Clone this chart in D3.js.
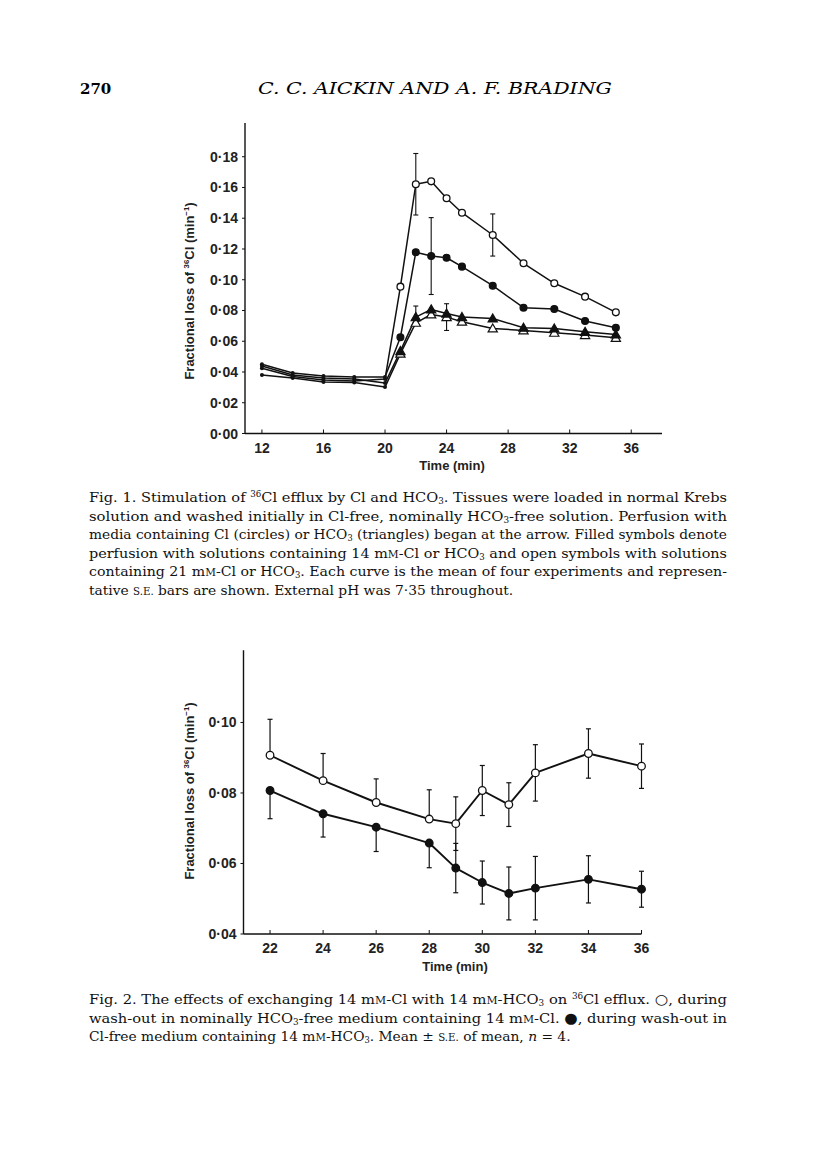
<!DOCTYPE html>
<html>
<head>
<meta charset="utf-8">
<script src="https://cdn.jsdelivr.net/npm/d3@7"></script>
<style>
  html, body { margin: 0; padding: 0; background: #fff; }
  svg { display: block; }
</style>
</head>
<body>
<svg id="chart" width="816" height="1160"></svg>
<script>
// ---------- DATA ----------
// Fig. 1
const fig1Time = [12, 14, 16, 18, 20, 21, 22, 23, 24, 25, 27, 29, 31, 33, 35];
const fig1OpenCircle   = [0.0424, 0.0371, 0.0348, 0.0341, 0.0354, 0.0955, 0.1621, 0.1640, 0.1530, 0.1436, 0.1291, 0.1107, 0.0977, 0.0890, 0.0788];
const fig1FilledCircle = [0.0450, 0.0393, 0.0374, 0.0367, 0.0367, 0.0626, 0.1179, 0.1154, 0.1143, 0.1085, 0.0961, 0.0818, 0.0810, 0.0732, 0.0688];
const fig1FilledTri    = [0.0439, 0.0380, 0.0361, 0.0354, 0.0328, 0.0536, 0.0757, 0.0807, 0.0780, 0.0757, 0.0748, 0.0688, 0.0683, 0.0661, 0.0644];
const fig1OpenTri      = [0.0380, 0.0361, 0.0335, 0.0332, 0.0302, 0.0519, 0.0720, 0.0774, 0.0757, 0.0727, 0.0683, 0.0670, 0.0655, 0.0640, 0.0622];
// representative S.E. bars
const fig1ErrSeries = ["openCircle", "openCircle", "filledCircle", "filledTri", "openTri"];
const fig1ErrTime   = [22, 27, 23, 22, 24];
const fig1ErrSE     = [0.0200, 0.0137, 0.0250, 0.0072, 0.0087];
const fig1ErrDir    = ["both", "both", "both", "up", "both"];
const fig1XTicks = [12, 16, 20, 24, 28, 32, 36];
const fig1YTicks = [0, 0.02, 0.04, 0.06, 0.08, 0.10, 0.12, 0.14, 0.16, 0.18];

// Fig. 2
const fig2Time = [22, 24, 26, 28, 29, 30, 31, 32, 34, 36];
const fig2Open     = [0.0907, 0.0835, 0.0773, 0.0726, 0.0713, 0.0807, 0.0767, 0.0857, 0.0912, 0.0876];
const fig2OpenSE   = [0.0102, 0.0077, 0.0067, 0.0083, 0.0076, 0.0071, 0.0062, 0.0080, 0.0070, 0.0063];
const fig2OpenDir  = ["up", "up", "up", "up", "both", "both", "both", "both", "both", "both"];
const fig2Filled   = [0.0807, 0.0741, 0.0703, 0.0658, 0.0587, 0.0546, 0.0515, 0.0530, 0.0555, 0.0527];
const fig2FilledSE = [0.0080, 0.0066, 0.0069, 0.0070, 0.0070, 0.0061, 0.0075, 0.0090, 0.0067, 0.0051];
const fig2FilledDir = ["down", "down", "down", "down", "both", "both", "both", "both", "both", "both"];
const fig2XTicks = [22, 24, 26, 28, 30, 32, 34, 36];
const fig2YTicks = [0.04, 0.06, 0.08, 0.10];

// ---------- TEXT ----------
const headerPage = "270";
const headerTitle = "C. C. AICKIN AND A. F. BRADING";
const yTitleParts = [{t: "Fractional loss of "}, {t: "36", sup: true}, {t: "Cl (min"}, {t: "−1", sup: true}, {t: ")"}];
const xTitle = "Time (min)";

const caption1 = [
  [{t: "Fig. 1. Stimulation of "}, {t: "36", sup: true}, {t: "Cl efflux by Cl and HCO"}, {t: "3", sub: true}, {t: ". Tissues were loaded in normal Krebs"}],
  [{t: "solution and washed initially in Cl-free, nominally HCO"}, {t: "3", sub: true}, {t: "-free solution. Perfusion with"}],
  [{t: "media containing Cl (circles) or HCO"}, {t: "3", sub: true}, {t: " (triangles) began at the arrow. Filled symbols denote"}],
  [{t: "perfusion with solutions containing 14 m"}, {t: "M", sc: true}, {t: "-Cl or HCO"}, {t: "3", sub: true}, {t: " and open symbols with solutions"}],
  [{t: "containing 21 m"}, {t: "M", sc: true}, {t: "-Cl or HCO"}, {t: "3", sub: true}, {t: ". Each curve is the mean of four experiments and represen-"}],
  [{t: "tative "}, {t: "S.E.", sc: true}, {t: " bars are shown. External pH was 7·35 throughout."}]
];
const caption2 = [
  [{t: "Fig. 2. The effects of exchanging 14 m"}, {t: "M", sc: true}, {t: "-Cl with 14 m"}, {t: "M", sc: true}, {t: "-HCO"}, {t: "3", sub: true}, {t: " on "}, {t: "36", sup: true}, {t: "Cl efflux. "}, {t: "○", sym: true}, {t: ", during"}],
  [{t: "wash-out in nominally HCO"}, {t: "3", sub: true}, {t: "-free medium containing 14 m"}, {t: "M", sc: true}, {t: "-Cl. "}, {t: "●", sym: true}, {t: ", during wash-out in"}],
  [{t: "Cl-free medium containing 14 m"}, {t: "M", sc: true}, {t: "-HCO"}, {t: "3", sub: true}, {t: ". Mean ± "}, {t: "S.E.", sc: true}, {t: " of mean, "}, {t: "n", it: true}, {t: " = 4."}]
];

// ---------- DRAWING ----------
const svg = d3.select("#chart");
svg.append("rect").attr("width", 816).attr("height", 1160).attr("fill", "#fff");

const SANS = "'Liberation Sans', Arial, Helvetica, sans-serif";
const SERIF = "'DejaVu Serif', 'Liberation Serif', serif";
const fmt = v => d3.format(".2f")(v).replace(".", "·");

// Header
svg.append("text").attr("x", 80).attr("y", 94).attr("font-family", SERIF)
  .attr("font-weight", "bold").attr("font-size", 15).text(headerPage);
svg.append("text").attr("x", 258).attr("y", 94).attr("font-family", SERIF)
  .attr("font-style", "italic").attr("font-size", 17)
  .attr("textLength", 354).attr("lengthAdjust", "spacingAndGlyphs").text(headerTitle);

function addParts(textSel, parts, baseSize) {
  let shift = 0;
  parts.forEach(p => {
    const ts = textSel.append("tspan");
    let target = 0, size = baseSize;
    if (p.sup) { target = -baseSize * 0.36; size = baseSize * 0.6; }
    if (p.sub) { target = baseSize * 0.15; size = baseSize * 0.6; }
    if (p.sc) { size = baseSize * 0.74; }
    if (p.sym) { size = baseSize * 1.05; ts.attr("font-family", "'DejaVu Sans', sans-serif"); }
    ts.attr("dy", target - shift).attr("font-size", size).text(p.t);
    if (p.it) ts.attr("font-style", "italic");
    shift = target;
  });
}

function yTitle(cx, cy) {
  const t = svg.append("text")
    .attr("transform", `translate(${cx},${cy}) rotate(-90)`)
    .attr("text-anchor", "middle")
    .attr("font-family", SANS).attr("font-weight", "bold").attr("font-size", 13)
    .attr("fill", "#222");
  addParts(t, yTitleParts, 13);
}

function drawAxes(x, y, xTicks, yTicks) {
  const [x0, x1] = x.range();
  const [y0, y1] = y.range();
  const g = svg.append("g");
  g.append("line").attr("x1", x0).attr("x2", x0).attr("y1", y1).attr("y2", y0)
    .attr("stroke", "#111").attr("stroke-width", 1.4);
  g.append("line").attr("x1", x0).attr("x2", x1).attr("y1", y0).attr("y2", y0)
    .attr("stroke", "#111").attr("stroke-width", 1.4);
  g.selectAll(".xt").data(xTicks).join("line")
    .attr("x1", d => x(d)).attr("x2", d => x(d)).attr("y1", y0).attr("y2", y0 - 4)
    .attr("stroke", "#111").attr("stroke-width", 1);
  g.selectAll(".xl").data(xTicks).join("text")
    .attr("x", d => x(d)).attr("y", y0 + 19)
    .attr("text-anchor", "middle").attr("font-family", SANS).attr("font-weight", "bold")
    .attr("font-size", 14).attr("fill", "#222").text(d => d);
  g.selectAll(".yt").data(yTicks).join("line")
    .attr("x1", x0).attr("x2", x0 - 3).attr("y1", d => y(d)).attr("y2", d => y(d))
    .attr("stroke", "#111").attr("stroke-width", 1);
  g.selectAll(".yl").data(yTicks).join("text")
    .attr("x", x0 - 7).attr("y", d => y(d) + 5)
    .attr("text-anchor", "end").attr("font-family", SANS).attr("font-weight", "bold")
    .attr("font-size", 14).attr("fill", "#222").text(d => fmt(d));
}

function drawSeries(x, y, times, vals, opts) {
  const pts = times.map((t, i) => ({t, v: vals[i], i}));
  svg.append("path").datum(pts)
    .attr("d", d3.line().x(d => x(d.t)).y(d => y(d.v)))
    .attr("fill", "none").attr("stroke", "#111").attr("stroke-width", opts.lw || 1.6)
    .attr("stroke-linejoin", "round");
  return pts;
}

function drawErr(x, y, t, v, se, dir, lw) {
  const top = (dir === "down") ? v : v + se;
  const bot = (dir === "up") ? v : v - se;
  const g = svg.append("g").attr("stroke", "#111").attr("stroke-width", lw || 1.2);
  g.append("line").attr("x1", x(t)).attr("x2", x(t)).attr("y1", y(top)).attr("y2", y(bot));
  if (dir !== "down") g.append("line").attr("x1", x(t) - 2.5).attr("x2", x(t) + 2.5).attr("y1", y(top)).attr("y2", y(top));
  if (dir !== "up") g.append("line").attr("x1", x(t) - 2.5).attr("x2", x(t) + 2.5).attr("y1", y(bot)).attr("y2", y(bot));
}

function drawMarkers(x, y, pts, shape, filled, r, smallBefore) {
  const tri = d3.symbol().type(d3.symbolTriangle).size(r * r * 3.2);
  pts.forEach(p => {
    const cx = x(p.t), cy = y(p.v);
    if (smallBefore !== undefined && p.t <= smallBefore) {
      svg.append("circle").attr("cx", cx).attr("cy", cy).attr("r", 2)
        .attr("fill", "#111");
      return;
    }
    if (shape === "circle") {
      svg.append("circle").attr("cx", cx).attr("cy", cy).attr("r", r)
        .attr("fill", filled ? "#111" : "#fff").attr("stroke", "#111").attr("stroke-width", 1.3);
    } else {
      svg.append("path").attr("d", tri).attr("transform", `translate(${cx},${cy + 0.8})`)
        .attr("fill", filled ? "#111" : "#fff").attr("stroke", "#111").attr("stroke-width", 1.2);
    }
  });
}

// ---------- FIG 1 ----------
const x1 = d3.scaleLinear().domain([10.9, 38]).range([245, 662]);
const y1 = d3.scaleLinear().domain([0, 0.202]).range([433.5, 122.9]);
drawAxes(x1, y1, fig1XTicks, fig1YTicks);
yTitle(194, 291);
svg.append("text").attr("x", 452).attr("y", 470).attr("text-anchor", "middle")
  .attr("font-family", SANS).attr("font-weight", "bold").attr("font-size", 13)
  .attr("fill", "#222").text(xTitle);

const fig1Series = {
  openCircle:   {vals: fig1OpenCircle, shape: "circle", filled: false},
  filledCircle: {vals: fig1FilledCircle, shape: "circle", filled: true},
  filledTri:    {vals: fig1FilledTri, shape: "tri", filled: true},
  openTri:      {vals: fig1OpenTri, shape: "tri", filled: false}
};
const fig1Pts = {};
Object.entries(fig1Series).forEach(([k, s]) => {
  fig1Pts[k] = drawSeries(x1, y1, fig1Time, s.vals, {lw: 1.5});
});
fig1ErrSeries.forEach((k, i) => {
  const idx = fig1Time.indexOf(fig1ErrTime[i]);
  drawErr(x1, y1, fig1ErrTime[i], fig1Series[k].vals[idx], fig1ErrSE[i], fig1ErrDir[i], 1.1);
});
["openTri", "filledTri", "filledCircle", "openCircle"].forEach(k => {
  const s = fig1Series[k];
  drawMarkers(x1, y1, fig1Pts[k], s.shape, s.filled, 3.4, 20);
});

// Caption helper
function caption(lines, startY, lh) {
  lines.forEach((parts, i) => {
    const t = svg.append("text").attr("x", 89).attr("y", startY + i * lh)
      .attr("font-family", SERIF).attr("font-size", 13.8).attr("fill", "#111");
    const last = i === lines.length - 1;
    if (!last) t.attr("textLength", 638).attr("lengthAdjust", "spacingAndGlyphs");
    addParts(t, parts, 13.8);
  });
}
caption(caption1, 502, 18.5);

// ---------- FIG 2 ----------
const x2 = d3.scaleLinear().domain([21, 36]).range([243.5, 641.5]);
const y2 = d3.scaleLinear().domain([0.04, 0.1205]).range([934, 650.2]);
drawAxes(x2, y2, fig2XTicks, fig2YTicks);
yTitle(194, 791);
svg.append("text").attr("x", 455).attr("y", 971).attr("text-anchor", "middle")
  .attr("font-family", SANS).attr("font-weight", "bold").attr("font-size", 13)
  .attr("fill", "#222").text(xTitle);

const p2o = drawSeries(x2, y2, fig2Time, fig2Open, {lw: 1.9});
const p2f = drawSeries(x2, y2, fig2Time, fig2Filled, {lw: 1.9});
fig2Time.forEach((t, i) => {
  drawErr(x2, y2, t, fig2Open[i], fig2OpenSE[i], fig2OpenDir[i], 1.2);
  drawErr(x2, y2, t, fig2Filled[i], fig2FilledSE[i], fig2FilledDir[i], 1.2);
});
drawMarkers(x2, y2, p2o, "circle", false, 3.8);
drawMarkers(x2, y2, p2f, "circle", true, 3.8);

caption(caption2, 1004, 18.5);
</script>
</body>
</html>
